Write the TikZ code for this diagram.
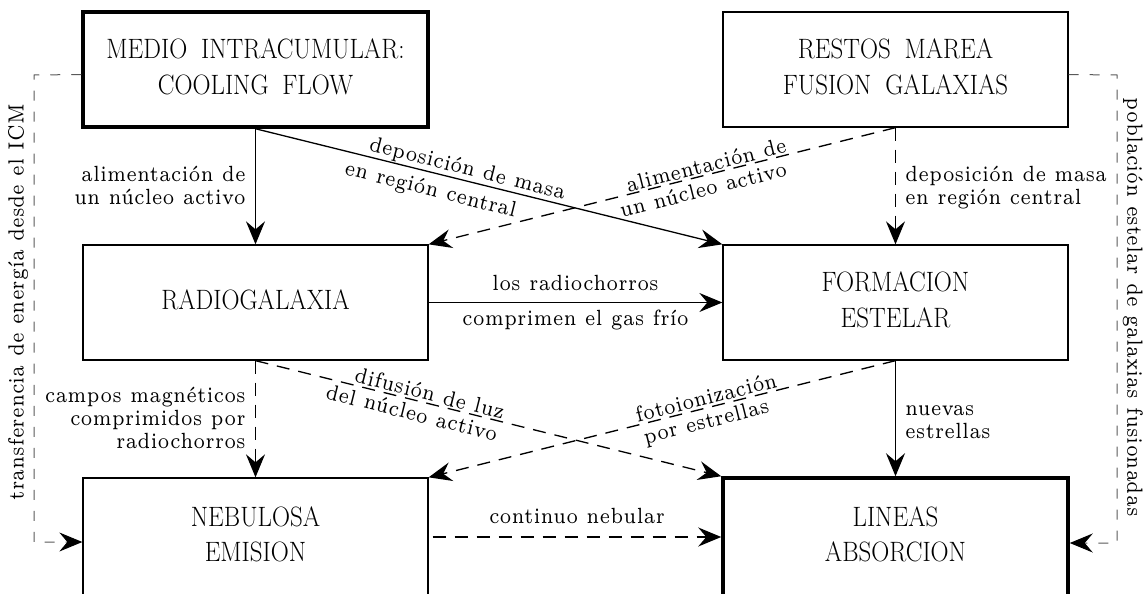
\documentclass[tikz,border=0pt]{standalone}
\usepackage{graphicx}
\usetikzlibrary{arrows.meta}
% box captions: tall roman capitals with wide word spaces
\newcommand\boxlines[1]{%
  \fontsize{25}{31.3}\selectfont\spaceskip=0.55em\relax
  \scalebox{1}[1.12]{\begin{tabular}{@{}c@{}}#1\end{tabular}}}
% connector captions: small roman, enlarged and stretched upwards
\newcommand\labtext[2][c]{%
  \scalebox{3.5}[4.4]{\fontsize{5}{5.2}\selectfont\begin{tabular}{@{}#1@{}}#2\end{tabular}}}
\begin{document}
\begin{tikzpicture}[x=1pt,y=-1pt,
  box/.style={draw, line width=1.3pt, minimum width=345pt, minimum height=115pt,
    inner sep=0pt},
  heavy/.style={line width=3.5pt},
  lab/.style={inner sep=0pt, rotate=#1},
  lab/.default=0,
  tipstyle/.style={-{Stealth[length=23pt,width=19pt,inset=8pt,color=black]}},
  conn/.style={line width=1.3pt, tipstyle},
  dconn/.style={conn, dash pattern=on 13pt off 9pt},
  side/.style={line width=1pt, black!65, dash pattern=on 10pt off 11pt, tipstyle}
]
\useasboundingbox (0,0) rectangle (1144,594);

% boxes
\node[box, heavy] (medio) at (255.5,69.5) {\boxlines{MEDIO INTRACUMULAR:\\COOLING FLOW}};
\node[box] (restos) at (895.5,69.5) {\boxlines{RESTOS MAREA\\FUSION GALAXIAS}};
\node[box] (radio) at (255.5,302.5) {\boxlines{RADIOGALAXIA}};
\node[box] (formacion) at (895.5,302.5) {\boxlines{FORMACION\\ESTELAR}};
\node[box, minimum height=118pt] (nebulosa) at (255.5,537) {\boxlines{NEBULOSA\\EMISION}};
\node[box, heavy, minimum height=118pt] (lineas) at (895.5,537) {\boxlines{LINEAS\\ABSORCION}};

% straight connectors
\draw[conn] (medio.south) -- (radio.north);
\draw[dconn] (restos.south) -- (formacion.north);
\draw[conn] (radio.east) -- (formacion.west);
\draw[dconn] (radio.south) -- (nebulosa.north);
\draw[conn] (formacion.south) -- (lineas.north);
\draw[dconn, shorten <=4pt] (nebulosa.east) -- (lineas.west);

% diagonal connectors
\draw[conn] (medio.south) -- (formacion.north west);
\draw[dconn] (restos.south) -- (radio.north east);
\draw[dconn] (radio.south) -- (lineas.north west);
\draw[dconn] (formacion.south) -- (nebulosa.north east);

% side feedback paths
\coordinate (lcorner) at (34,75);
\coordinate (rcorner) at (1117,75);
\draw[side] ([yshift=-5pt]medio.west) -- (lcorner) |- ([yshift=-5pt]nebulosa.west);
\draw[side] ([yshift=-5pt]restos.east) -- (rcorner) |- ([yshift=-6pt]lineas.east);

% labels of straight connectors
\node[lab, anchor=east] (l1) at (246,188) {\labtext[r]{alimentación de\\un núcleo activo}};
\node[lab, anchor=west] (l2) at (905,188) {\labtext[l]{deposición de masa\\en región central}};
\node[lab] (l3a) at (575.5,286) {\labtext{los radiochorros}};
\node[lab] (l3b) at (575.5,321) {\labtext{comprimen el gas frío}};
\node[lab, anchor=east] (l4) at (246,421) {\labtext[r]{campos magnéticos\\comprimidos por\\radiochorros}};
\node[lab, anchor=west] (l5) at (905,422) {\labtext[l]{nuevas\\estrellas}};
\node[lab] (l6) at (577,519) {\labtext{continuo nebular}};

% labels of diagonal connectors (centres beside each line)
\node[lab=-14.17] (da1) at (467.1,170.5) {\labtext{deposición de masa}};
\node[lab=-14.17] (da2) at (430.3,191.4) {\labtext{en región central}};
\node[lab=14.17] (db1) at (706.8,167.7) {\labtext{alimentación de}};
\node[lab=14.17] (db2) at (703.7,192.1) {\labtext{un núcleo activo}};
\node[lab=-14.17] (dc1) at (429.2,396.2) {\labtext{difusión de luz}};
\node[lab=-14.17] (dc2) at (411.2,415.4) {\labtext{del núcleo activo}};
\node[lab=14.17] (dd1) at (706.7,400.2) {\labtext{fotoionización}};
\node[lab=14.17] (dd2) at (706.7,423.9) {\labtext{por estrellas}};

% labels of side paths
\node[lab=90] (ls) at (19,302) {\labtext{transferencia de energía desde el ICM}};
\node[lab=-90] (rs) at (1132,307) {\labtext{población estelar de galaxias fusionadas}};
\end{tikzpicture}
\end{document}
